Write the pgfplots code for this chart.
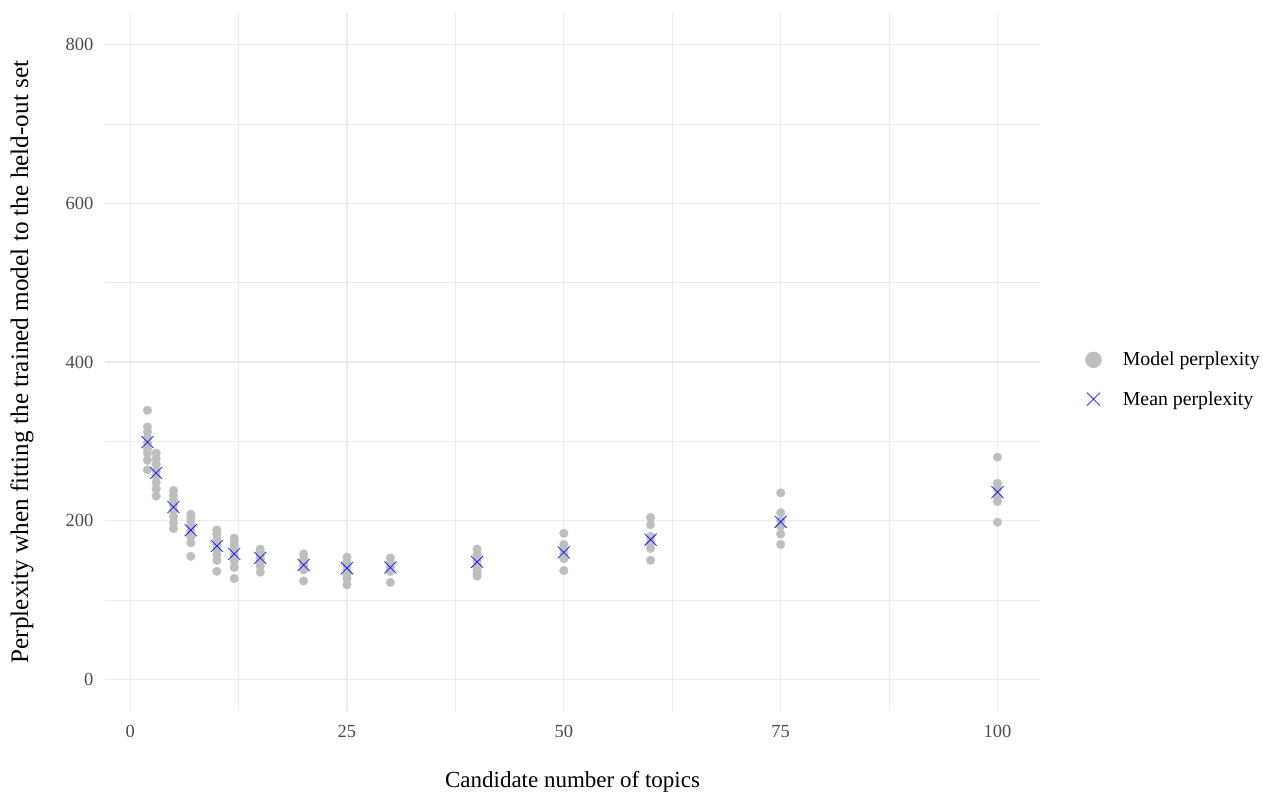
\documentclass[border=0pt]{standalone}
\usepackage{fontspec}
\setmainfont{Liberation Serif}
\usepackage{pgfplots}
\pgfplotsset{compat=1.18}
\definecolor{gridc}{RGB}{235,235,235}
\definecolor{dotc}{RGB}{190,190,190}
\definecolor{tickc}{RGB}{77,77,77}
\definecolor{meanc}{RGB}{20,20,255}
\begin{document}
\begin{tikzpicture}
\path[use as bounding box] (-105pt,-83pt) rectangle (1158pt,711pt);
\begin{axis}[
 at={(0pt,0pt)}, anchor=south west,
 scale only axis, width=935pt, height=698pt,
 xmin=-2.9, xmax=104.9, ymin=-40, ymax=840,
 xtick={0,25,50,75,100}, ytick={0,200,400,600,800},
 minor xtick={12.5,37.5,62.5,87.5}, minor ytick={100,300,500,700},
 grid=both,
 major grid style={gridc, line width=1.1pt},
 minor grid style={gridc, line width=0.55pt},
 axis line style={draw=none},
 major tick length=0pt, minor tick length=0pt,
 tick style={draw=none},
 /pgf/number format/assume math mode=true,
 ticklabel style={font=\fontsize{18.5}{20}\selectfont, text=tickc},
 xticklabel style={anchor=north, yshift=-11pt},
 yticklabel style={anchor=east, xshift=-8pt},
 xlabel={Candidate number of topics},
 ylabel={Perplexity when fitting the trained model to the held-out set},
 xlabel style={font=\fontsize{23}{26}\selectfont, at={(rel axis cs:0.5,-0.1017)}, anchor=center},
 ylabel style={font=\fontsize{25.2}{28}\selectfont, at={(rel axis cs:-0.0888,0.5)}, anchor=center},
 legend style={at={(rel axis cs:1.045,0.475)}, anchor=west, draw=none, fill=none,
   font=\fontsize{19.8}{22}\selectfont, row sep=20pt},
 legend cell align=left,
 clip=false,
]
\addplot[only marks, mark=*, mark size=4.3pt, color=dotc, mark options={draw=none, fill=dotc},
 legend image code/.code={\fill[dotc] (0.3cm,0pt) circle (8pt); \path (0.3cm,0pt) ++(27pt,0pt);}]
coordinates {
(2,339) (2,318) (2,312) (2,305) (2,298) (2,290) (2,285) (2,276) (2,264)
(3,285) (3,278) (3,271) (3,263) (3,256) (3,248) (3,240) (3,231)
(5,238) (5,232) (5,226) (5,220) (5,213) (5,205) (5,197) (5,190)
(7,208) (7,204) (7,199) (7,193) (7,187) (7,180) (7,172) (7,155)
(10,188) (10,183) (10,176) (10,170) (10,164) (10,157) (10,150) (10,136)
(12,178) (12,174) (12,168) (12,162) (12,156) (12,149) (12,141) (12,127)
(15,164) (15,160) (15,156) (15,152) (15,148) (15,143) (15,135)
(20,158) (20,152) (20,147) (20,143) (20,138) (20,124)
(25,154) (25,148) (25,143) (25,138) (25,133) (25,127) (25,119)
(30,153) (30,147) (30,141) (30,136) (30,122)
(40,164) (40,157) (40,150) (40,144) (40,138) (40,133) (40,130)
(50,184) (50,170) (50,163) (50,158) (50,152) (50,137)
(60,204) (60,195) (60,180) (60,172) (60,165) (60,150)
(75,235) (75,210) (75,200) (75,193) (75,183) (75,170)
(100,280) (100,247) (100,240) (100,230) (100,224) (100,198)
};
\addlegendentry{Model perplexity}
\addplot[only marks, mark=x, mark size=8.5pt, color=meanc, line width=0.75pt,
 legend image code/.code={\draw[meanc, line width=0.75pt] (0.3cm,0pt) ++(-6.5pt,-6.5pt) -- ++(13pt,13pt) ++(-13pt,0pt) -- ++(13pt,-13pt); \path (0.3cm,0pt) ++(27pt,0pt);}]
coordinates {
(2,299) (3,260) (5,217) (7,188) (10,168) (12,158) (15,153) (20,144) (25,140)
(30,141) (40,148) (50,160) (60,176) (75,198.5) (100,236)
};
\addlegendentry{Mean perplexity}
\end{axis}
\end{tikzpicture}
\end{document}
